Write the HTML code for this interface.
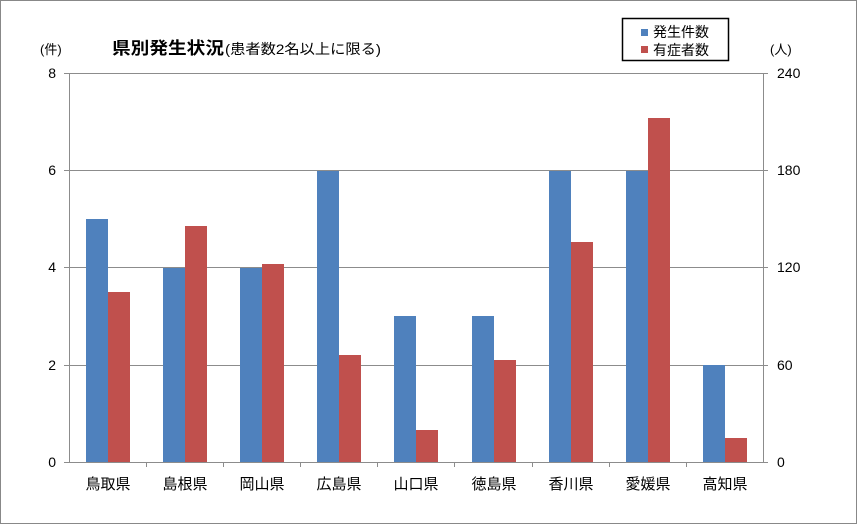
<!DOCTYPE html>
<html><head><meta charset="utf-8"><style>
body{margin:0;background:#fff}
svg{display:block;font-family:"Liberation Sans","Noto Sans CJK JP",sans-serif}
</style></head><body>
<svg width="857" height="524" viewBox="0 0 857 524">
<rect x="0.5" y="0.5" width="856" height="523" fill="#fff" stroke="#888"/>
<g stroke="#8c8c8c" stroke-width="1">
<line x1="69" y1="73.5" x2="763" y2="73.5"/>
<line x1="69" y1="170.5" x2="763" y2="170.5"/>
<line x1="69" y1="267.5" x2="763" y2="267.5"/>
<line x1="69" y1="365.5" x2="763" y2="365.5"/>
<line x1="69.5" y1="73" x2="69.5" y2="462"/>
<line x1="763.5" y1="73" x2="763.5" y2="462"/>
<line x1="64" y1="462.5" x2="768" y2="462.5"/>
<line x1="64" y1="73.5" x2="69" y2="73.5"/><line x1="64" y1="170.5" x2="69" y2="170.5"/><line x1="64" y1="267.5" x2="69" y2="267.5"/><line x1="64" y1="365.5" x2="69" y2="365.5"/>
<line x1="763" y1="73.5" x2="768" y2="73.5"/><line x1="763" y1="170.5" x2="768" y2="170.5"/><line x1="763" y1="267.5" x2="768" y2="267.5"/><line x1="763" y1="365.5" x2="768" y2="365.5"/>
<line x1="146.5" y1="462" x2="146.5" y2="467"/><line x1="223.5" y1="462" x2="223.5" y2="467"/><line x1="300.5" y1="462" x2="300.5" y2="467"/><line x1="377.5" y1="462" x2="377.5" y2="467"/><line x1="454.5" y1="462" x2="454.5" y2="467"/><line x1="532.5" y1="462" x2="532.5" y2="467"/><line x1="609.5" y1="462" x2="609.5" y2="467"/><line x1="686.5" y1="462" x2="686.5" y2="467"/>
</g>
<g fill="#4f81bd">
<rect x="86" y="219" width="22" height="243"/>
<rect x="163" y="268" width="22" height="194"/>
<rect x="240" y="268" width="22" height="194"/>
<rect x="317" y="171" width="22" height="291"/>
<rect x="394" y="316" width="22" height="146"/>
<rect x="472" y="316" width="22" height="146"/>
<rect x="549" y="171" width="22" height="291"/>
<rect x="626" y="171" width="22" height="291"/>
<rect x="703" y="365" width="22" height="97"/>
</g>
<g fill="#c0504d">
<rect x="108" y="292" width="22" height="170"/>
<rect x="185" y="226" width="22" height="236"/>
<rect x="262" y="264" width="22" height="198"/>
<rect x="339" y="355" width="22" height="107"/>
<rect x="416" y="430" width="22" height="32"/>
<rect x="494" y="360" width="22" height="102"/>
<rect x="571" y="242" width="22" height="220"/>
<rect x="648" y="118" width="22" height="344"/>
<rect x="725" y="438" width="22" height="24"/>
</g>
<g font-size="14" fill="#000" text-anchor="end">
<text x="56" y="78">8</text><text x="56" y="175">6</text><text x="56" y="272">4</text><text x="56" y="370">2</text><text x="56" y="467">0</text>
</g>
<g font-size="14" fill="#000" text-anchor="start">
<text x="777" y="78">240</text><text x="777" y="175">180</text><text x="777" y="272">120</text><text x="777" y="370">60</text><text x="777" y="467">0</text>
</g>
<g font-size="15" fill="#000" text-anchor="middle">
<text x="108" y="489">鳥取県</text><text x="185" y="489">島根県</text><text x="262" y="489">岡山県</text><text x="339" y="489">広島県</text><text x="416" y="489">山口県</text><text x="494" y="489">徳島県</text><text x="571" y="489">香川県</text><text x="648" y="489">愛媛県</text><text x="725" y="489">高知県</text>
</g>
<text x="40" y="54" font-size="13">(件)</text>
<text x="770" y="54" font-size="13">(人)</text>
<text x="112" y="54" font-size="17" font-weight="bold" textLength="112" lengthAdjust="spacingAndGlyphs">県別発生状況</text>
<text x="225" y="54" font-size="14" textLength="156" lengthAdjust="spacingAndGlyphs">(患者数2名以上に限る)</text>
<rect x="622.5" y="18.5" width="106" height="42" fill="#fff" stroke="#000" stroke-width="1.5"/>
<rect x="641" y="29" width="7" height="7" fill="#4f81bd"/>
<rect x="641" y="46" width="7" height="7" fill="#c0504d"/>
<g font-size="14"><text x="653" y="37">発生件数</text><text x="653" y="55">有症者数</text></g>
</svg>
</body></html>
